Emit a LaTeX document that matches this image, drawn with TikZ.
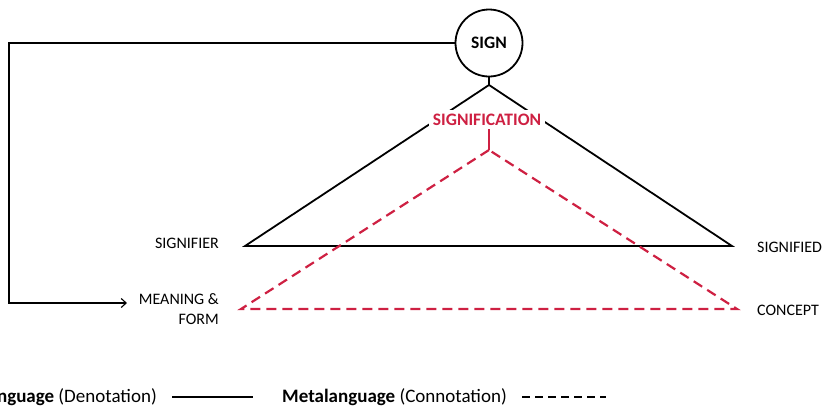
\documentclass[tikz,border=0pt]{standalone}
\usepackage{fontspec}
\setmainfont{Carlito}
\usetikzlibrary{arrows.meta}
\definecolor{sigred}{RGB}{206,32,66}
\begin{document}
\begin{tikzpicture}[x=1pt,y=-1pt,
  lbl/.style={font=\fontsize{16}{20}\selectfont, inner sep=0pt},
  leglbl/.style={font=\fontsize{19}{23}\selectfont, inner sep=0pt},
  solidline/.style={line width=1.8pt, black},
  redline/.style={line width=2.2pt, sigred, dash pattern=on 10pt off 6pt},
  thin/.style={line width=1.1pt, black}]
\useasboundingbox (0,0) rectangle (822,405);
% sign circle
\node[circle, draw, line width=1.8pt, minimum size=67pt, inner sep=0pt,
      font=\fontsize{17.5}{20}\selectfont\bfseries] (sign) at (489,43) {SIGN};
% triangle vertices
\coordinate (top) at (489,85);
\coordinate (sl) at (245,246);
\coordinate (sr) at (732,246);
\coordinate (rtop) at (489,150);
\coordinate (rl) at (241,309);
\coordinate (rr) at (737,309);
% black triangle
\draw[solidline, line join=miter] (sign.south) -- (top);
\draw[solidline] (top) -- (sl) -- (sr) -- cycle;
% signification label
\node[lbl, fill=white, inner xsep=4pt, inner ysep=4pt, text=sigred, font=\fontsize{17.5}{20}\selectfont\bfseries] (signif) at (487,120) {SIGNIFICATION};
% red dashed triangle
\draw[line width=1.8pt, sigred] (signif.south) ++(2,-1) coordinate (rs) -- (rtop);
\draw[redline] (rtop) -- (rl) -- (rr) -- cycle;
% labels
\node[lbl, anchor=east] (signifier) at (219,243) {SIGNIFIER};
\node[lbl, anchor=west] (signified) at (757,247) {SIGNIFIED};
\node[lbl, anchor=west] (concept) at (757,310) {CONCEPT};
\node[lbl, anchor=north east, align=right] (meaning) at (219,293) {MEANING \&\\FORM};
\coordinate (arrowend) at (127,303);
\coordinate (corner) at (9,43);
% feedback arrow
\draw[thin, -{Straight Barb[length=5pt,width=9pt,line width=1.1pt]}] (sign.west) -- (corner) |- (arrowend);
% legend
\node[leglbl, anchor=east] (leg1) at (157,397) {\textbf{Language} (Denotation)};
\coordinate (l1a) at (172,397);
\coordinate (l1b) at (253,397);
\draw[solidline] (l1a) -- (l1b);
\node[leglbl, anchor=west] (leg2) at (282,397) {\textbf{Metalanguage} (Connotation)};
\coordinate (l2a) at (522,397);
\coordinate (l2b) at (606,397);
\draw[line width=1.8pt, black, dash pattern=on 8pt off 5pt] (l2a) -- (l2b);
\end{tikzpicture}
\end{document}
